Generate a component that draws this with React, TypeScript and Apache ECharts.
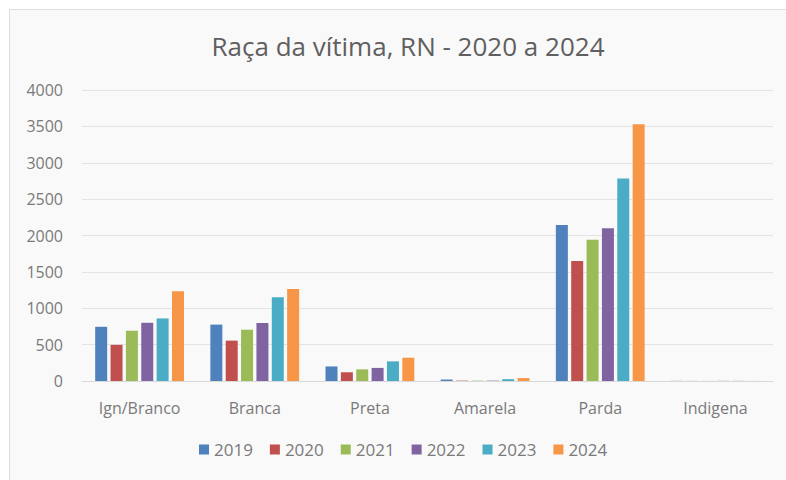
import React, { useEffect, useRef } from "react";
import * as echarts from "echarts";

const categories = ["Ign/Branco", "Branca", "Preta", "Amarela", "Parda", "Indigena"];
const years = ["2019", "2020", "2021", "2022", "2023", "2024"];
const v2019 = [745, 775, 200, 20, 2145, 2];
const v2020 = [497, 555, 120, 5, 1650, 1];
const v2021 = [690, 705, 160, 5, 1940, 1];
const v2022 = [800, 797, 180, 5, 2100, 2];
const v2023 = [860, 1150, 270, 25, 2785, 2];
const v2024 = [1235, 1265, 320, 40, 3530, 1];
const yTicks = [0, 500, 1000, 1500, 2000, 2500, 3000, 3500, 4000];
const colors = ["#4f81bd", "#c0504d", "#9bbb59", "#8064a2", "#4bacc6", "#f79646"];

const FONT = "Open Sans";
const LABEL = "#7a7a7a";

export default function App() {
  const ref = useRef<HTMLDivElement>(null);
  useEffect(() => {
    if (!ref.current) return;
    const chart = echarts.init(ref.current, null, { renderer: "svg" });
    const values = [v2019, v2020, v2021, v2022, v2023, v2024];
    chart.setOption({
      animation: false,
      backgroundColor: "#ffffff",
      graphic: [
        {
          type: "rect",
          shape: { x: 9.5, y: 9.5, width: 800, height: 500 },
          style: { fill: "#f9f9f9", stroke: "#dedede", lineWidth: 1 },
          z: -10,
        },
      ],
      title: {
        text: "Raça da vítima, RN - 2020 a 2024",
        left: 403,
        textAlign: "center",
        top: 28,
        textStyle: { fontFamily: FONT, fontSize: 26, fontWeight: "normal", color: "#5f5f5f" },
      },
      legend: {
        data: years,
        bottom: 17,
        left: 194,
        icon: "rect",
        itemWidth: 10,
        itemHeight: 10,
        itemGap: 17,
        textStyle: { fontFamily: FONT, fontSize: 17, color: LABEL },
      },
      grid: { left: 82, right: 13, top: 90, bottom: 99 },
      xAxis: {
        type: "category",
        data: categories,
        axisLine: { lineStyle: { color: "#d9d9d9" } },
        axisTick: { show: false },
        axisLabel: { fontFamily: FONT, fontSize: 16, color: LABEL, margin: 19 },
      },
      yAxis: {
        type: "value",
        min: yTicks[0],
        max: yTicks[yTicks.length - 1],
        interval: 500,
        axisLine: { show: false },
        axisTick: { show: false },
        splitLine: { lineStyle: { color: "#e3e3e3" } },
        axisLabel: {
          fontFamily: FONT,
          fontSize: 16,
          color: LABEL,
          margin: 19,
          formatter: (v: number) => String(v),
        },
      },
      series: years.map((y, i) => ({
        name: y,
        type: "bar",
        data: values[i],
        barWidth: 12,
        barGap: "28%",
        itemStyle: { color: colors[i] },
      })),
    });
    return () => chart.dispose();
  }, []);
  return (
    <div
      ref={ref}
      style={{ position: "fixed", left: 0, top: 0, width: 786, height: 480 }}
    />
  );
}
